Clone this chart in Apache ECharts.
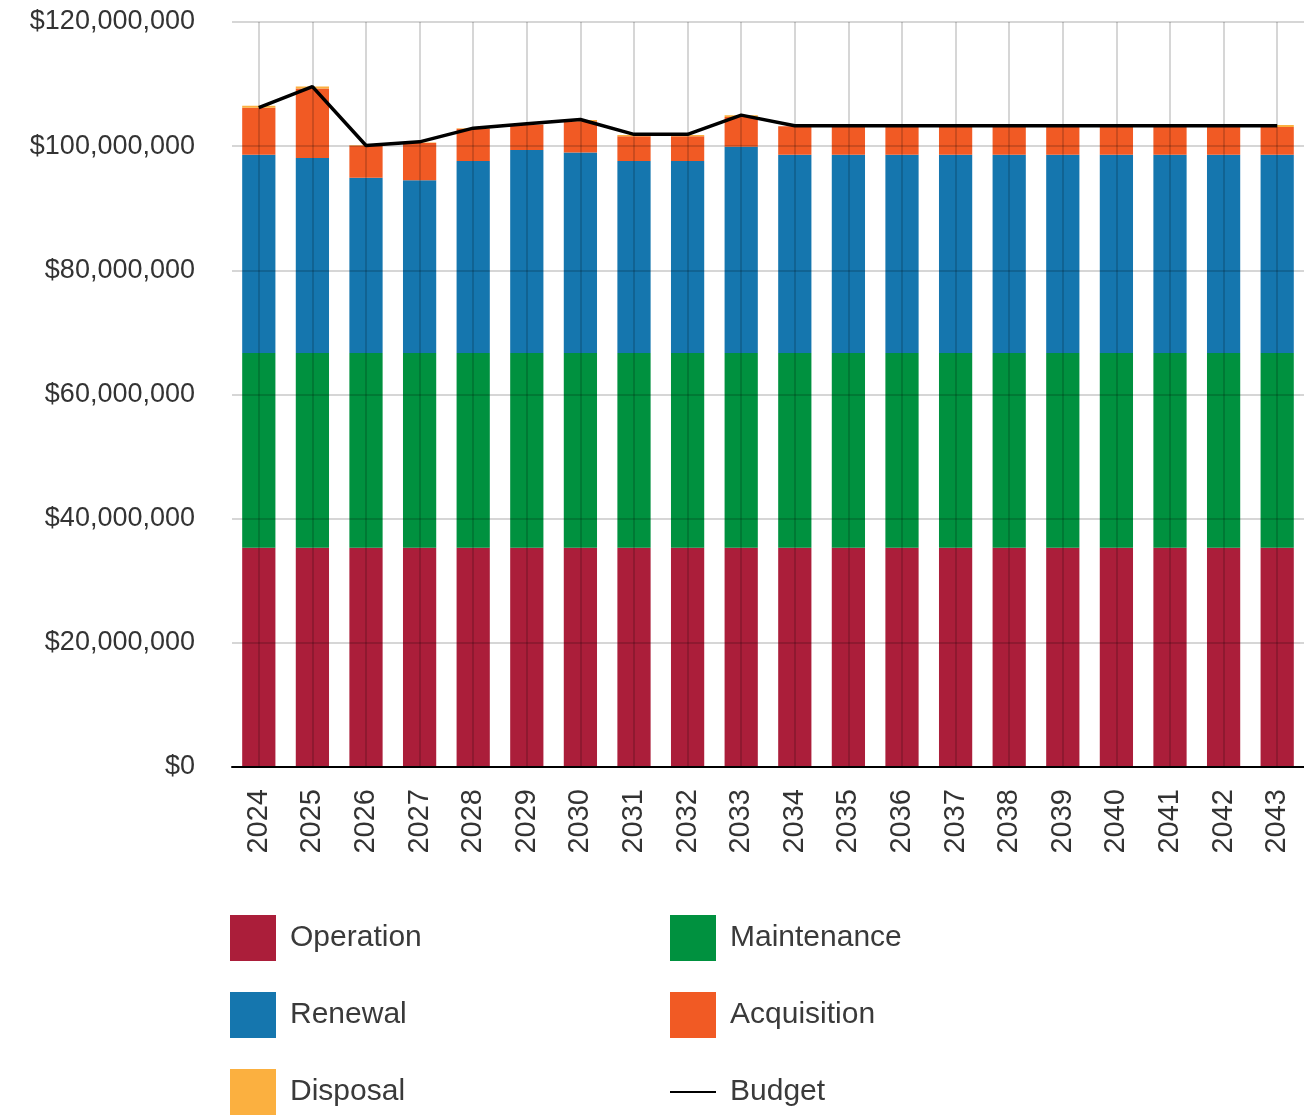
<!DOCTYPE html>
<html>
<head>
<meta charset="utf-8">
<script src="https://cdn.jsdelivr.net/npm/echarts@6/dist/echarts.min.js"></script>
<style>
    html, body { margin: 0; padding: 0; background: #fff; }
    #chart { width: 1304px; height: 1117px; }
</style>
</head>
<body>
<div id="chart"></div>
<script>
    // categories
    var years = ['2024', '2025', '2026', '2027', '2028', '2029', '2030', '2031', '2032', '2033',
        '2034', '2035', '2036', '2037', '2038', '2039', '2040', '2041', '2042', '2043'];
    // values (dollars)
    var operation = [35300000, 35300000, 35300000, 35300000, 35300000, 35300000, 35300000, 35300000, 35300000, 35300000,
        35300000, 35300000, 35300000, 35300000, 35300000, 35300000, 35300000, 35300000, 35300000, 35300000];
    var maintenance = [31400000, 31400000, 31400000, 31400000, 31400000, 31400000, 31400000, 31400000, 31400000, 31400000,
        31400000, 31400000, 31400000, 31400000, 31400000, 31400000, 31400000, 31400000, 31400000, 31400000];
    var renewal = [31900000, 31400000, 28200000, 27800000, 30900000, 32700000, 32300000, 30900000, 30900000, 33200000,
        31900000, 31900000, 31900000, 31900000, 31900000, 31900000, 31900000, 31900000, 31900000, 31900000];
    var acquisition = [7600000, 11200000, 5200000, 6000000, 5200000, 4100000, 5000000, 4000000, 4000000, 4800000,
        4600000, 4600000, 4600000, 4600000, 4600000, 4600000, 4600000, 4600000, 4600000, 4500000];
    var disposal = [300000, 300000, 100000, 100000, 100000, 0, 200000, 200000, 200000, 300000,
        0, 0, 0, 0, 0, 0, 0, 0, 0, 300000];
    var budget = [106200000, 109600000, 100100000, 100700000, 102900000, 103600000, 104300000, 101900000, 101900000, 105000000,
        103300000, 103300000, 103300000, 103300000, 103300000, 103300000, 103300000, 103300000, 103300000, 103300000];

    var colors = {
        Operation: '#ab1e3a',
        Maintenance: '#00913f',
        Renewal: '#1576ae',
        Acquisition: '#f15a24',
        Disposal: '#fbb040'
    };

    function barSeries(name, values) {
        return {
            name: name,
            type: 'bar',
            stack: 'total',
            barWidth: '62%',
            itemStyle: { color: colors[name] },
            data: values
        };
    }

    var font = 'Arial, "Liberation Sans", sans-serif';

    var chartDom = document.getElementById('chart');
    var myChart = echarts.init(chartDom, null, { renderer: 'canvas' });
    var legendBase = {
        orient: 'vertical',
        top: 915,
        height: 300,
        padding: 0,
        itemWidth: 46,
        itemHeight: 46,
        itemGap: 31,
        textStyle: { fontSize: 30, color: '#3a3a3a', padding: [0, 0, 0, 9] }
    };
    // thin line icon for Budget, kept in a 46x46 box by two invisible specks
    var lineIcon = 'path://M0,22 H46 V24 H0 Z M0,0 H0.01 V0.01 H0 Z M0,46 H0.01 V46.01 H0 Z';
    var option = {
        animation: false,
        textStyle: { fontFamily: font },
        grid: {
            left: 232,
            right: 0,
            top: 22,
            bottom: 350,
            containLabel: false
        },
        legend: [
            Object.assign({}, legendBase, {
                left: 230,
                icon: 'rect',
                data: ['Operation', 'Renewal', 'Disposal']
            }),
            Object.assign({}, legendBase, {
                left: 670,
                data: [
                    { name: 'Maintenance', icon: 'rect' },
                    { name: 'Acquisition', icon: 'rect' },
                    { name: 'Budget', icon: lineIcon }
                ]
            })
        ],
        xAxis: {
            type: 'category',
            data: years,
            z: 10,
            axisLine: { lineStyle: { color: '#000', width: 2 } },
            axisTick: { alignWithLabel: true, length: 10, lineStyle: { color: '#000', width: 2 } },
            axisLabel: { rotate: 90, fontSize: 29, color: '#333', margin: 22 },
            splitLine: {
                show: true,
                alignWithLabel: true,
                lineStyle: { color: 'rgba(0,0,0,0.16)', width: 2 }
            }
        },
        yAxis: {
            type: 'value',
            min: 0,
            max: 120000000,
            interval: 20000000,
            z: 10,
            axisLine: { show: false },
            axisTick: { show: false },
            axisLabel: {
                fontSize: 27,
                color: '#333',
                margin: 37,
                formatter: function (v) {
                    return '$' + v.toLocaleString('en-US');
                }
            },
            splitLine: { lineStyle: { color: 'rgba(0,0,0,0.16)', width: 2 } }
        },
        series: [
            barSeries('Operation', operation),
            barSeries('Maintenance', maintenance),
            barSeries('Renewal', renewal),
            barSeries('Acquisition', acquisition),
            barSeries('Disposal', disposal),
            {
                name: 'Budget',
                type: 'line',
                z: 20,
                symbol: 'none',
                lineStyle: { color: '#000', width: 3.5 },
                itemStyle: { color: '#000' },
                data: budget
            }
        ]
    };
    myChart.setOption(option);
</script>
</body>
</html>
